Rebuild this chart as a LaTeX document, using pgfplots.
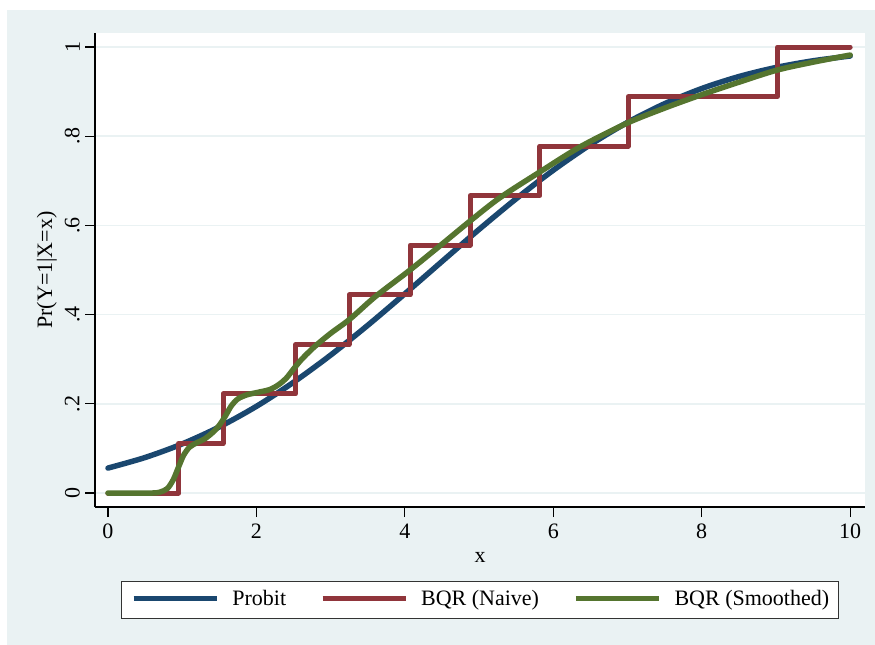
\documentclass[border=0pt]{standalone}
\usepackage{fontspec}
\setmainfont{Liberation Serif}
\usepackage{pgfplots}
\pgfplotsset{compat=1.18}
\definecolor{stnavy}{RGB}{26,71,111}
\definecolor{stmaroon}{RGB}{144,53,59}
\definecolor{stgreen}{RGB}{85,117,47}
\definecolor{stbg}{RGB}{234,242,243}
\begin{document}
\fontsize{22bp}{26bp}\selectfont
\begin{tikzpicture}
\useasboundingbox (0,0) rectangle (875bp,-645bp);
\fill[white] (0,0) rectangle (875bp,-645bp);
\fill[stbg] (7bp,-10bp) rectangle (875bp,-645bp);
\begin{axis}[
    at={(95bp,-507bp)}, anchor=south west,
    scale only axis, width=770bp, height=474bp,
    xmin=-0.175, xmax=10.2, ymin=-0.0314, ymax=1.0314,
    axis background/.style={fill=white},
    axis x line*=bottom, axis y line*=left,
    axis line style={black, line width=1.2bp},
    font=\fontsize{22bp}{26bp}\selectfont,
    xtick={0,2,4,6,8,10}, xticklabels={0,2,4,6,8,10},
    ytick={0,0.2,0.4,0.6,0.8,1}, yticklabels={0,.2,.4,.6,.8,1},
    tick align=outside, major tick length=10bp,
    tick style={black, line width=1.2bp},
    xticklabel style={inner xsep=0pt, inner ysep=7bp},
    yticklabel style={rotate=90, anchor=south, inner xsep=0pt, inner ysep=5bp},
    ymajorgrids, major grid style={stbg, line width=1.5bp},
    xlabel={x}, ylabel={Pr(Y=1|X=x)},
    xlabel style={at={(axis description cs:0.5,-0.118)}, anchor=base},
    ylabel style={at={(axis description cs:-0.0558,0.5)}, rotate=0, anchor=base},
    legend columns=3,
    legend style={at={(0.5,-0.196)}, anchor=center, draw=black!80,
        line width=1.2bp, fill=white, inner xsep=9bp, inner ysep=9.5bp,
        nodes={inner sep=0pt},
        /tikz/every odd column/.append style={column sep=13bp},
        /tikz/every even column/.append style={column sep=34bp}},
    legend image code/.code={\draw[#1, line cap=butt] (0bp,1.5bp) -- (83bp,1.5bp);},
]
\addplot[stnavy, line width=5.5bp, smooth, line cap=round] coordinates {
(0,0.0559) (0.5,0.0796) (1,0.1101) (1.5,0.1482) (2,0.1943) (2.5,0.2483)
(3,0.3092) (3.5,0.3760) (4,0.4467) (4.5,0.5191) (5,0.5910) (5.5,0.6598)
(6,0.7237) (6.5,0.7811) (7,0.8310) (7.5,0.8729) (8,0.9069) (8.5,0.9337)
(9,0.9541) (9.5,0.9691) (10,0.9798)
};
\addlegendentry{Probit}
\addplot[stmaroon, line width=5bp, const plot, line join=round, line cap=round] coordinates {
(0,0) (0.95,0.1111) (1.55,0.2222) (2.53,0.3333) (3.25,0.4444) (4.07,0.5556)
(4.88,0.6667) (5.82,0.7778) (7.01,0.8889) (9.02,1) (10,1)
};
\addlegendentry{BQR (Naive)}
\addplot[stgreen, line width=5.5bp, smooth, line cap=round] coordinates {
(0,0) (0.3,0) (0.6,0) (0.7,0.002) (0.8,0.01) (0.88,0.03) (0.95,0.058)
(1.02,0.085) (1.1,0.103) (1.2,0.113) (1.3,0.121) (1.42,0.137) (1.5,0.152)
(1.58,0.172) (1.66,0.195) (1.75,0.211) (1.87,0.220) (2.0,0.225) (2.18,0.232)
(2.3,0.243) (2.4,0.257) (2.5,0.278) (2.6,0.298) (2.7,0.315) (2.81,0.332)
(3.0,0.358) (3.26,0.39) (3.6,0.44) (4.07,0.50) (4.5,0.558) (4.88,0.61)
(5.28,0.662) (5.82,0.72) (6.36,0.776) (6.99,0.829) (7.5,0.863) (7.98,0.892)
(8.5,0.921) (9.01,0.948) (9.5,0.966) (10,0.982)
};
\addlegendentry{BQR (Smoothed)}
\end{axis}
\end{tikzpicture}
\end{document}
